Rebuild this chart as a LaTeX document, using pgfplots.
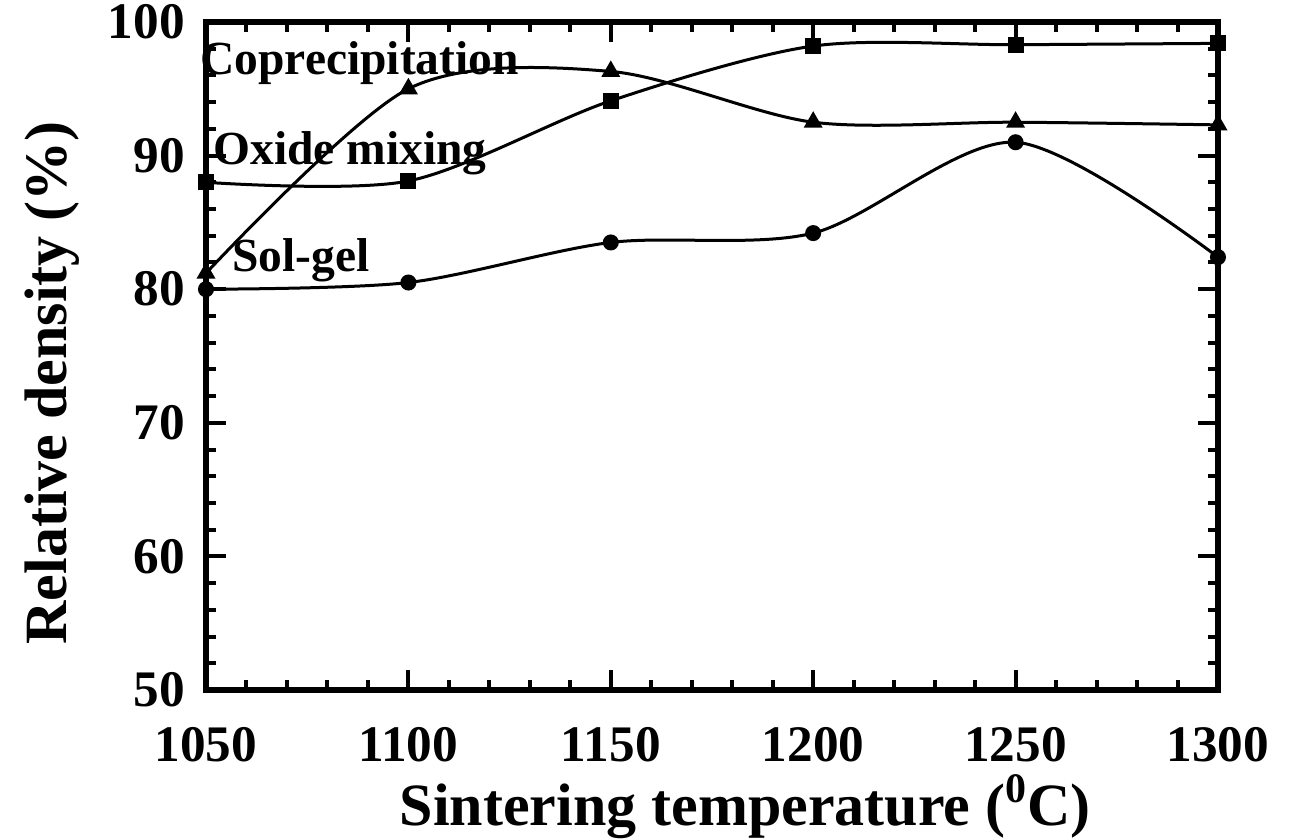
\documentclass[border=0pt]{standalone}
\usepackage{pgfplots}
\pgfplotsset{compat=1.18}
\usepackage{fontspec}
\setmainfont{Liberation Serif}

\begin{document}
\begin{tikzpicture}
% fixed page frame around the plot box
\useasboundingbox (-82.4pt,-59.6pt) rectangle (438pt,276pt);
\begin{axis}[
  at={(0pt,0pt)}, anchor=south west,
  scale only axis, width=404.8pt, height=267.2pt,
  xmin=1050, xmax=1300, ymin=50, ymax=100,
  xtick={1050,1100,...,1300}, ytick={50,60,...,100},
  minor x tick num=4, minor y tick num=4,
  tick align=inside, xtick pos=both, ytick pos=both,
  major tick length=8pt, minor tick length=4pt,
  every tick/.style={line width=1.6pt, black},
  axis line style={line width=2.4pt},
  /pgf/number format/assume math mode=true,
  /pgf/number format/1000 sep={},
  tick label style={font=\bfseries\fontsize{20.5}{20.5}\selectfont},
  xticklabel style={yshift=-11.5pt},
  yticklabel style={xshift=-5pt},
  clip=false,
]
% Coprecipitation
\addplot[black, line width=1.2pt, smooth, mark=triangle*, mark size=3.2pt]
  coordinates {(1050,81.2) (1100,95.0) (1150,96.3) (1200,92.5) (1250,92.5) (1300,92.3)};
% Oxide mixing
\addplot[black, line width=1.2pt, smooth, mark=square*, mark size=2.6pt]
  coordinates {(1050,88.0) (1100,88.1) (1150,94.1) (1200,98.2) (1250,98.3) (1300,98.4)};
% Sol-gel
\addplot[black, line width=1.2pt, smooth, mark=*, mark size=2.6pt]
  coordinates {(1050,80.0) (1100,80.5) (1150,83.5) (1200,84.2) (1250,91.0) (1300,82.4)};

\node[anchor=base west, font=\bfseries\fontsize{19}{19}\selectfont, inner sep=0pt]
  at (axis cs:1048.5,96.1) {Coprecipitation};
\node[anchor=base west, font=\bfseries\fontsize{19}{19}\selectfont, inner sep=0pt]
  at (axis cs:1051.7,89.3) {Oxide mixing};
\node[anchor=base west, font=\bfseries\fontsize{19}{19}\selectfont, inner sep=0pt]
  at (axis cs:1056.4,81.3) {Sol-gel};

\node[font=\bfseries\fontsize{24}{24}\selectfont]
  at (rel axis cs:0.533,-0.175) {Sintering temperature (\textsuperscript{0}C)};
\node[rotate=90, font=\bfseries\fontsize{24}{24}\selectfont]
  at (rel axis cs:-0.152,0.46) {Relative density (\%)};
\end{axis}
\end{tikzpicture}
\end{document}
